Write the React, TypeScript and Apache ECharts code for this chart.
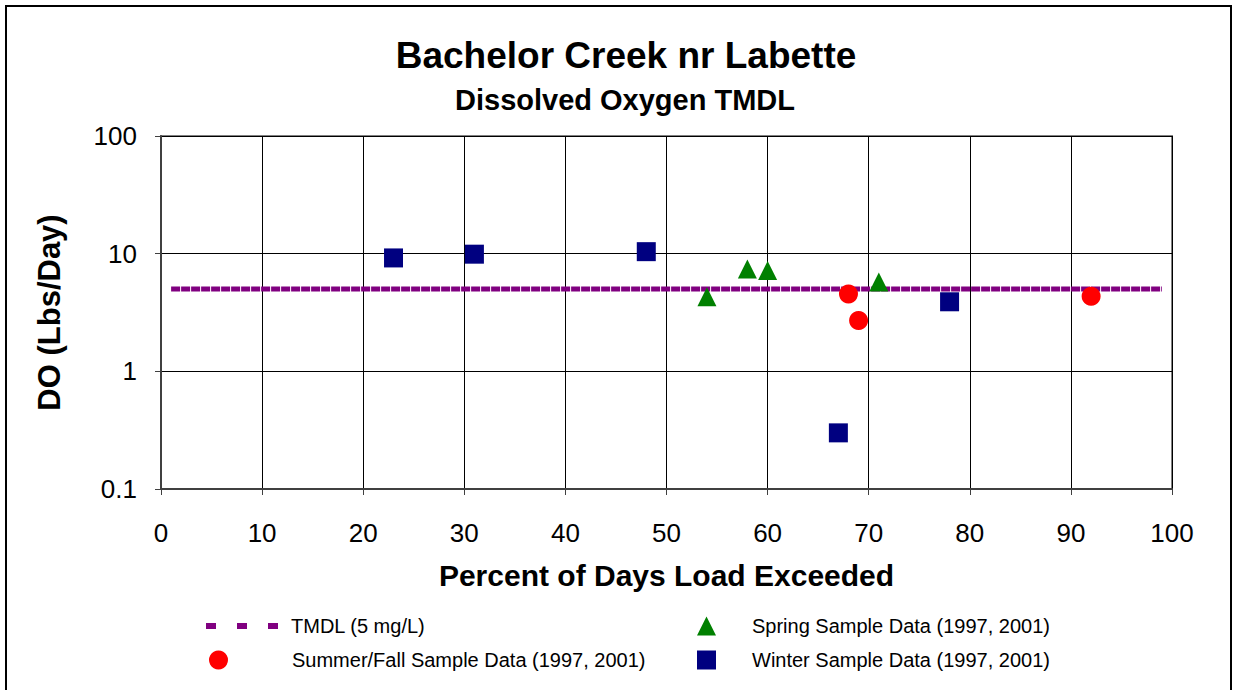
import React, { useEffect, useRef } from "react";
import * as echarts from "echarts";

const tmdlX = [1, 99];
const tmdlY = [5, 5];
const springX = [54, 58, 60, 71];
const springY = [4.3, 7.4, 7.2, 5.75];
const summerX = [68, 69, 92];
const summerY = [4.55, 2.7, 4.35];
const winterX = [23, 31, 48, 67, 78];
const winterY = [9.2, 9.9, 10.4, 0.3, 3.9];
const yTicks = [0.1, 1, 10, 100];

const FONT = "Liberation Sans, Arial, sans-serif";

const pairs = (xs: number[], ys: number[]) => xs.map((x, i) => [x, ys[i]]);

export default function App() {
  const ref = useRef<HTMLDivElement>(null);
  useEffect(() => {
    if (!ref.current) return;
    const chart = echarts.init(ref.current, null, { renderer: "svg" });
    const legendBase = {
      orient: "horizontal",
      padding: 0,
      itemGap: 0,
      selectedMode: false,
      textStyle: { fontFamily: FONT, fontSize: 20, color: "#000" },
    };
    chart.setOption({
      animation: false,
      backgroundColor: "#fff",
      title: [
        {
          text: "Bachelor Creek nr Labette",
          left: 621,
          top: 32,
          textAlign: "center",
          textStyle: { fontFamily: FONT, fontSize: 37, fontWeight: "bold", color: "#000" },
        },
        {
          text: "Dissolved Oxygen TMDL",
          left: 620,
          top: 80,
          textAlign: "center",
          textStyle: { fontFamily: FONT, fontSize: 29, fontWeight: "bold", color: "#000" },
        },
      ],
      grid: {
        left: 161,
        top: 136,
        width: 1011,
        height: 353,
        show: true,
        borderColor: "#808080",
        borderWidth: 2,
        backgroundColor: "#fff",
      },
      xAxis: {
        type: "value",
        min: 0,
        max: 100,
        interval: 10,
        name: "Percent of Days Load Exceeded",
        nameLocation: "middle",
        nameGap: 71,
        nameTextStyle: { fontFamily: FONT, fontSize: 30, fontWeight: "bold", color: "#000" },
        axisLine: { show: true, lineStyle: { color: "#404040", width: 2 } },
        axisTick: { show: true, inside: false, length: 6, lineStyle: { color: "#404040", width: 1 } },
        axisLabel: { fontFamily: FONT, fontSize: 26, color: "#000", margin: 31 },
        splitLine: { show: true, lineStyle: { color: "#000", width: 1 } },
      },
      yAxis: {
        type: "log",
        logBase: 10,
        min: yTicks[0],
        max: yTicks[yTicks.length - 1],
        name: "DO (Lbs/Day)",
        nameLocation: "middle",
        nameGap: 96,
        nameTextStyle: { fontFamily: FONT, fontSize: 31, fontWeight: "bold", color: "#000" },
        axisLine: { show: true, lineStyle: { color: "#404040", width: 2 } },
        axisTick: { show: true, inside: false, length: 6, lineStyle: { color: "#404040", width: 1 } },
        axisLabel: {
          fontFamily: FONT,
          fontSize: 26,
          color: "#000",
          margin: 24,
          formatter: (v: number) => String(v),
        },
        splitLine: { show: true, lineStyle: { color: "#000", width: 1 } },
      },
      legend: [
        {
          ...legendBase,
          data: ["TMDL (5 mg/L)"],
          left: 203,
          top: 616,
          itemWidth: 72,
          itemHeight: 20,
          itemStyle: { opacity: 0 },
          lineStyle: { type: [10, 21], width: 6, color: "#800080" },
          textStyle: { ...legendBase.textStyle, padding: [0, 0, 0, 8] },
        },
        {
          ...legendBase,
          data: ["Summer/Fall Sample Data (1997, 2001)"],
          left: 209,
          top: 650,
          itemWidth: 19,
          itemHeight: 19,
          textStyle: { ...legendBase.textStyle, padding: [0, 0, 0, 59] },
        },
        {
          ...legendBase,
          data: ["Spring Sample Data (1997, 2001)"],
          left: 697,
          top: 616,
          itemWidth: 19,
          itemHeight: 19,
          textStyle: { ...legendBase.textStyle, padding: [0, 0, 0, 31] },
        },
        {
          ...legendBase,
          data: ["Winter Sample Data (1997, 2001)"],
          left: 697,
          top: 650,
          itemWidth: 19,
          itemHeight: 19,
          textStyle: { ...legendBase.textStyle, padding: [0, 0, 0, 31] },
        },
      ],
      graphic: [
        {
          type: "rect",
          shape: { x: 6, y: 6, width: 1225, height: 720 },
          style: { fill: "none", stroke: "#000", lineWidth: 2 },
          silent: true,
          z: 100,
        },
      ],
      series: [
        {
          name: "TMDL (5 mg/L)",
          type: "line",
          data: pairs(tmdlX, tmdlY),
          symbol: "none",
          lineStyle: { color: "#800080", width: 5, type: [9, 1] },
          itemStyle: { color: "#800080" },
          z: 3,
        },
        {
          name: "Spring Sample Data (1997, 2001)",
          type: "scatter",
          data: pairs(springX, springY),
          symbol: "triangle",
          symbolSize: 19,
          itemStyle: { color: "#008000", opacity: 1 },
          z: 4,
        },
        {
          name: "Summer/Fall Sample Data (1997, 2001)",
          type: "scatter",
          data: pairs(summerX, summerY),
          symbol: "circle",
          symbolSize: 19,
          itemStyle: { color: "#FF0000", opacity: 1 },
          z: 4,
        },
        {
          name: "Winter Sample Data (1997, 2001)",
          type: "scatter",
          data: pairs(winterX, winterY),
          symbol: "rect",
          symbolSize: 19,
          itemStyle: { color: "#000080", opacity: 1 },
          z: 4,
        },
      ],
    });
    return () => chart.dispose();
  }, []);
  return (
    <div
      ref={ref}
      style={{ position: "absolute", left: 0, top: 0, width: 1233, height: 690 }}
    />
  );
}
